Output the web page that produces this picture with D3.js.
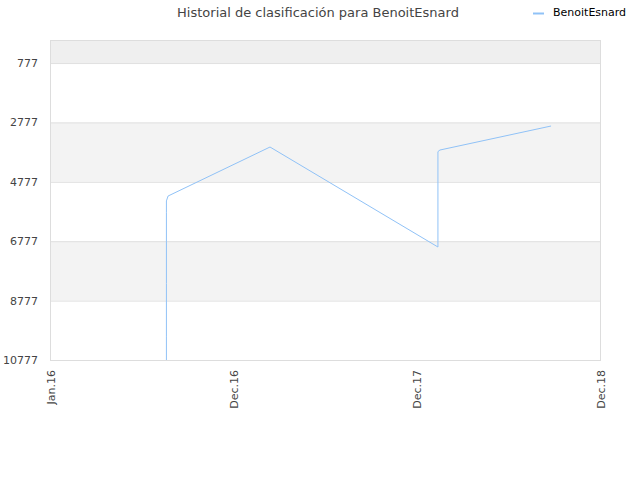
<!DOCTYPE html>
<html>
<head>
<meta charset="utf-8">
<script src="https://cdn.jsdelivr.net/npm/d3@7"></script>
<style>
  body { margin: 0; background: #fff; }
  text { font-family: "DejaVu Sans", Verdana, sans-serif; }
</style>
</head>
<body>
<div id="chart"></div>
<script>
// data (x in tick units: 0 = Jan.16, 1 = Dec.16 ...)
var playerName = "BenoitEsnard";
var xTickLabels = ["Jan.16", "Dec.16", "Dec.17", "Dec.18"];
var yTickValues = [777, 2777, 4777, 6777, 8777, 10777];
var pointX = [0.635, 0.635, 0.635, 0.635, 0.635, 0.635, 0.644, 1.2, 2.116, 2.116, 2.127, 2.733];
var pointRank = [12500, 10000, 8200, 6800, 5800, 5420, 5255, 3605, 6972, 3760, 3706, 2898];

var svgWidth = 640, svgHeight = 480;
var margin = { top: 40, right: 40, bottom: 120, left: 50 };
var width = svgWidth - margin.left - margin.right;
var height = svgHeight - margin.top - margin.bottom;

var svg = d3.select("#chart").append("svg")
  .attr("width", svgWidth)
  .attr("height", svgHeight);

var chartGroup = svg.append("g")
  .attr("transform", `translate(${margin.left}, ${margin.top})`);

var xScale = d3.scaleLinear().domain([0, 3]).range([0, width]);
var yScale = d3.scaleLinear().domain([1, 10777]).range([0, height]);

// alternating bands
var bandEdges = [1].concat(yTickValues);
for (var i = 0; i < bandEdges.length - 1; i++) {
  if (i % 2 === 0) {
    chartGroup.append("rect")
      .attr("x", 0)
      .attr("y", yScale(bandEdges[i]))
      .attr("width", width)
      .attr("height", yScale(bandEdges[i + 1]) - yScale(bandEdges[i]))
      .attr("fill", i === 0 ? "#efefef" : "#f3f3f3");
  }
}

// grid lines
chartGroup.selectAll(".grid")
  .data(yTickValues)
  .enter()
  .append("line")
  .attr("x1", 0)
  .attr("x2", width)
  .attr("y1", d => yScale(d) + 0.5)
  .attr("y2", d => yScale(d) + 0.5)
  .attr("stroke", "#e0e0e0");

// border
chartGroup.append("rect")
  .attr("x", 0.5).attr("y", 0.5)
  .attr("width", width).attr("height", height)
  .attr("fill", "none")
  .attr("stroke", "#dddddd");

// y axis labels
var leftAxis = d3.axisLeft(yScale).tickValues(yTickValues).tickSize(0).tickPadding(12)
  .tickFormat(d3.format("d"));
var yAxisG = chartGroup.append("g").call(leftAxis);
yAxisG.select(".domain").remove();
yAxisG.selectAll("text")
  .attr("fill", "#444")
  .style("font-size", "11px")
  .style("font-family", "DejaVu Sans, sans-serif");

// x axis labels, rotated
var bottomAxis = d3.axisBottom(xScale).tickValues([0, 1, 2, 3]).tickSize(0)
  .tickFormat((d, i) => xTickLabels[i]);
var xAxisG = chartGroup.append("g")
  .attr("transform", `translate(0, ${height})`)
  .call(bottomAxis);
xAxisG.select(".domain").remove();
xAxisG.selectAll("text")
  .attr("transform", "translate(4, 10) rotate(-90)")
  .attr("x", 0).attr("y", 0).attr("dy", 0)
  .attr("text-anchor", "end")
  .attr("fill", "#444")
  .style("font-size", "11px")
  .style("font-family", "DejaVu Sans, sans-serif");

// line, clipped to the plot
chartGroup.append("clipPath").attr("id", "plotClip")
  .append("rect").attr("width", width).attr("height", height);

var lineData = pointX.map((x, i) => ({ x: x, rank: pointRank[i] }));
var line = d3.line().x(d => xScale(d.x)).y(d => yScale(d.rank));

chartGroup.append("path")
  .datum(lineData)
  .attr("clip-path", "url(#plotClip)")
  .attr("d", line)
  .attr("fill", "none")
  .attr("stroke", "#90c2f7")
  .attr("stroke-width", 1);

// title
svg.append("text")
  .attr("x", 318)
  .attr("y", 17)
  .attr("text-anchor", "middle")
  .attr("fill", "#444")
  .style("font-size", "13px")
  .text("Historial de clasificación para " + playerName);

// legend
svg.append("line")
  .attr("x1", 533).attr("x2", 544)
  .attr("y1", 13.5).attr("y2", 13.5)
  .attr("stroke", "#90c2f7")
  .attr("stroke-width", 2);
svg.append("text")
  .attr("x", 553)
  .attr("y", 16)
  .attr("fill", "#000")
  .style("font-size", "11px")
  .text(playerName);
</script>
</body>
</html>
